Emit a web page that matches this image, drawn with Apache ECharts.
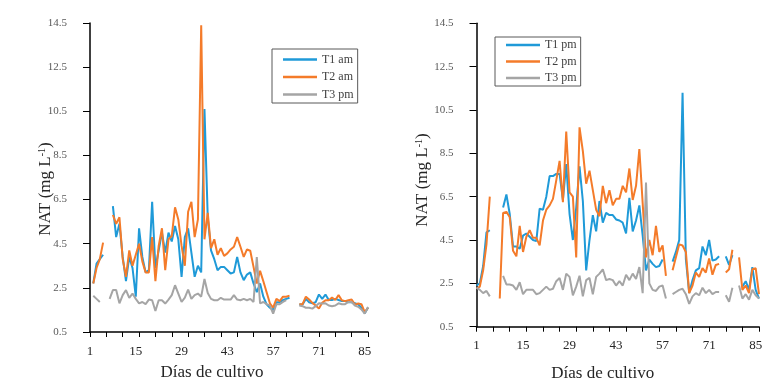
<!DOCTYPE html>
<html>
<head>
<meta charset="utf-8">
<script src="https://cdn.jsdelivr.net/npm/echarts@6/dist/echarts.min.js"></script>
<style>
  html, body { margin: 0; padding: 0; background: #fff; }
  #chart { width: 783px; height: 383px; }
</style>
</head>
<body>
<div id="chart"></div>
<script>
// days of culture, 1..86
const days = Array.from({ length: 86 }, (_, i) => String(i + 1));

// left panel (am)
const t1am = [
  null, 2.7, 3.6, 3.8, 4.0, null, null, 6.2, 4.8, 5.4,
  3.9, 2.8, 3.9, 3.4, 2.1, 5.2, 3.9, 3.2, 3.3, 6.4,
  3.4, 4.2, 5.0, 4.1, 5.0, 4.6, 5.3, 4.7, 3.0, 4.8,
  5.2, 4.1, 3.0, 3.5, 3.2, 10.6, 5.7, 4.2, 3.8, 3.3,
  3.45, 3.45, 3.3, 3.15, 3.2, 3.9, 3.2, 2.85, 3.1, 3.2,
  2.7, 2.3, 2.7, 2.1, 1.75, 1.6, 1.5, 1.85, 1.85, 1.95,
  2.0, 2.05, null, null, 1.75, 1.75, 2.0, 1.85, 1.8, 1.85,
  2.2, 2.0, 2.2, 1.95, 1.95, 2.0, 1.95, 1.9, 1.9, 1.85,
  1.85, 1.8, 1.75, 1.6, 1.35, 1.6
];
const t2am = [
  null, 2.7, 3.4, 3.8, 4.55, null, null, 5.8, 5.4, 5.7,
  3.8, 3.0, 4.2, 3.5, 4.0, 4.5, 3.7, 3.2, 3.2, 4.8,
  2.8, 4.4, 5.2, 3.3, 4.7, 4.85, 6.15, 5.6, 4.4, 3.5,
  5.95, 6.4, 4.8, 5.6, 14.4, 4.7, 5.9, 4.3, 4.7, 4.0,
  4.3, 3.95, 4.06, 4.24, 4.36, 4.8, 4.36, 3.9, 4.24, 4.18,
  3.45, 2.7, 3.27, 2.8, 2.3, 1.8, 1.6, 2.0, 1.9, 2.1,
  2.1, 2.15, null, null, 1.76, 1.76, 2.1, 1.97, 1.82, 1.7,
  1.56, 1.82, 1.94, 1.94, 2.06, 1.95, 2.17, 1.94, 1.9, 1.94,
  1.97, 1.74, 1.79, 1.76, 1.4, 1.6
];
const t3pmLeft = [
  null, 2.14, 2.0, 1.86, null, null, 2.0, 2.4, 2.4, 1.8,
  2.17, 2.4, 2.05, 2.24, 2.0, 1.8, 1.86, 1.76, 1.97, 1.94,
  1.45, 1.94, 1.94, 1.79, 1.97, 2.17, 2.62, 2.24, 1.86, 2.06,
  2.42, 2.0, 2.17, 2.24, 2.1, 2.9, 2.27, 2.0, 1.94, 1.94,
  2.05, 1.97, 1.97, 1.97, 2.17, 1.97, 1.94, 2.0, 1.94, 2.0,
  1.86, 3.9, 1.8, 1.86, 1.76, 1.7, 1.33, 1.76, 1.76, 1.86,
  1.94, null, null, null, 1.7, 1.67, 1.6, 1.6, 1.56, 1.67,
  1.8, 1.79, 1.8, 1.7, 1.67, 1.7, 1.8, 1.76, 1.76, 1.86,
  1.86, 1.7, 1.64, 1.52, 1.33, 1.64
];

// right panel (pm)
const t1pm = [
  2.4, 2.5, 3.3, 4.85, 4.95, null, null, null, 6.0, 6.6,
  5.7, 4.2, 4.2, 4.1, 4.7, 4.8, 4.65, 4.5, 4.45, 5.95,
  5.9, 6.5, 7.45, 7.45, 7.55, 7.55, 6.35, 8.0, 5.7, 4.5,
  6.0, 7.9, 6.3, 3.1, 4.5, 5.65, 4.9, 6.3, 5.3, 5.75,
  5.65, 5.65, 5.45, 5.4, 5.3, 4.8, 6.45, 4.9, 5.4, 6.1,
  4.7, 3.1, 3.6, 3.4, 3.25, 3.3, 3.6, null, null, 3.5,
  3.95, 4.5, 11.3, 3.6, 2.05, 2.65, 3.1, 3.2, 4.2, 3.8,
  4.5, 3.55, 3.6, 3.75, null, 3.75, 3.35, 3.8, null, null,
  2.35, 2.6, 2.2, 3.25, 2.2, 1.8
];
const t2pm = [
  2.25, 2.35, 3.1, 4.3, 6.5, null, null, 1.8, 5.75, 5.8,
  5.55, 4.0, 3.75, 5.15, 3.95, 4.65, 4.95, 4.6, 4.6, 4.25,
  5.4, 5.9, 6.1, 6.4, 7.25, 8.15, 6.25, 9.5, 6.7, 6.5,
  3.7, 9.7, 8.6, 7.1, 7.7, 6.8, 5.9, 5.6, 7.0, 6.2,
  6.8, 6.1, 6.4, 6.4, 7.0, 6.7, 7.8, 6.35, 7.0, 8.7,
  6.2, 3.7, 4.5, 3.8, 5.15, 3.95, 4.25, 2.85, null, 3.1,
  3.7, 4.3, 4.25, 3.95, 2.05, 2.4, 3.0, 2.8, 3.2, 3.0,
  3.65, 2.9, 3.35, 3.4, null, 3.0, 3.15, 4.05, null, 3.7,
  2.2, 2.4, 2.05, 3.15, 3.2, 2.0
];
const t3pmRight = [
  2.3, 2.2, 2.05, 2.15, 1.9, null, null, null, 2.85, 2.45,
  2.45, 2.4, 2.2, 2.55, 2.0, 2.2, 2.2, 2.2, 2.0, 2.05,
  2.2, 2.35, 2.2, 2.25, 2.6, 2.75, 2.2, 2.95, 2.8, 1.95,
  2.35, 2.85, 1.9, 2.65, 2.75, 2.0, 2.8, 2.95, 3.15, 2.65,
  2.7, 2.65, 2.4, 2.6, 2.4, 2.9, 2.65, 2.95, 2.7, 3.25,
  2.05, 7.15, 2.5, 2.2, 2.15, 2.35, 2.4, 1.8, null, 2.0,
  2.1, 2.2, 2.25, 2.0, 1.55, 1.9, 2.05, 1.95, 2.3, 2.05,
  2.2, 2.0, 2.1, 2.1, null, 1.95, 1.65, 2.3, null, 2.4,
  1.8, 2.0, 1.75, 2.2, 1.95, 1.8
];

const BLUE = '#1f9ad8';
const ORANGE = '#f47b2a';
const GRAY = '#a5a5a5';
const FONT = 'Liberation Serif';

const myChart = echarts.init(document.getElementById('chart'));

function line(name, data, color, idx) {
  return {
    name: name,
    type: 'line',
    xAxisIndex: idx,
    yAxisIndex: idx,
    data: data,
    showSymbol: false,
    symbol: 'none',
    connectNulls: false,
    lineStyle: { color: color, width: 2 },
    itemStyle: { color: color }
  };
}

function xAxis(idx, nameGap, shift, labelMargin) {
  return {
    type: 'category',
    gridIndex: idx,
    data: days,
    boundaryGap: false,
    axisLine: { lineStyle: { color: '#000', width: 1.5 } },
    axisTick: { interval: 4, length: 5, lineStyle: { color: '#000' } },
    axisLabel: { interval: 13, margin: labelMargin, fontFamily: FONT, fontSize: 13, color: '#262626' },
    name: 'Días de cultivo',
    nameLocation: 'middle',
    nameGap: nameGap,
    nameMoveOverlap: false,
    nameTextStyle: { fontFamily: FONT, fontSize: 17, color: '#262626', padding: [0, shift, 0, 0] }
  };
}

function yAxis(idx, nameGap, shift) {
  return {
    type: 'value',
    gridIndex: idx,
    min: 0.5,
    max: 14.5,
    interval: 2,
    axisLine: { show: true, lineStyle: { color: '#000', width: 1.5 } },
    axisTick: { show: true, length: 7, lineStyle: { color: '#000' } },
    splitLine: { show: false },
    axisLabel: { margin: 23, fontFamily: FONT, fontSize: 11, color: '#595959' },
    name: 'NAT (mg L{sup|-1})',
    nameLocation: 'middle',
    nameGap: nameGap,
    nameMoveOverlap: false,
    nameTextStyle: {
      fontFamily: FONT, fontSize: 17, color: '#262626', padding: [0, shift, 0, 0],
      rich: { sup: { fontFamily: FONT, fontSize: 10, color: '#262626', verticalAlign: 'top' } }
    }
  };
}

function legend(names, left, top, lineH, pad) {
  return {
    data: names,
    orient: 'vertical',
    left: left,
    top: top,
    borderColor: '#595959',
    borderWidth: 1,
    padding: pad,
    icon: 'rect',
    itemWidth: 34,
    itemHeight: 2.5,
    itemGap: 4.5,
    selectedMode: false,
    textStyle: { fontFamily: FONT, fontSize: 12, color: '#404040', lineHeight: lineH }
  };
}

const option = {
  animation: false,
  textStyle: { fontFamily: FONT },
  grid: [
    { left: 90, top: 23, width: 278, height: 309, containLabel: false, outerBoundsMode: 'none' },
    { left: 476.5, top: 23.3, width: 282.5, height: 303.4, containLabel: false, outerBoundsMode: 'none' }
  ],
  legend: [
    legend(['T1 am', 'T2 am', 'T3 pm'], 272, 49, 13, [4, 4, 2, 11]),
    legend(['T1 pm', 'T2 pm', 'T3 pm'], 495, 37, 12, [2, 4, 2, 11])
  ],
  xAxis: [xAxis(0, 32, 34, 13), xAxis(1, 38, 30, 12)],
  yAxis: [yAxis(0, 36, 23), yAxis(1, 45, 10)],
  series: [
    line('T1 am', t1am, BLUE, 0),
    line('T2 am', t2am, ORANGE, 0),
    line('T3 pm', t3pmLeft, GRAY, 0),
    line('T1 pm', t1pm, BLUE, 1),
    line('T2 pm', t2pm, ORANGE, 1),
    line('T3 pm', t3pmRight, GRAY, 1)
  ]
};

myChart.setOption(option);
</script>
</body>
</html>
